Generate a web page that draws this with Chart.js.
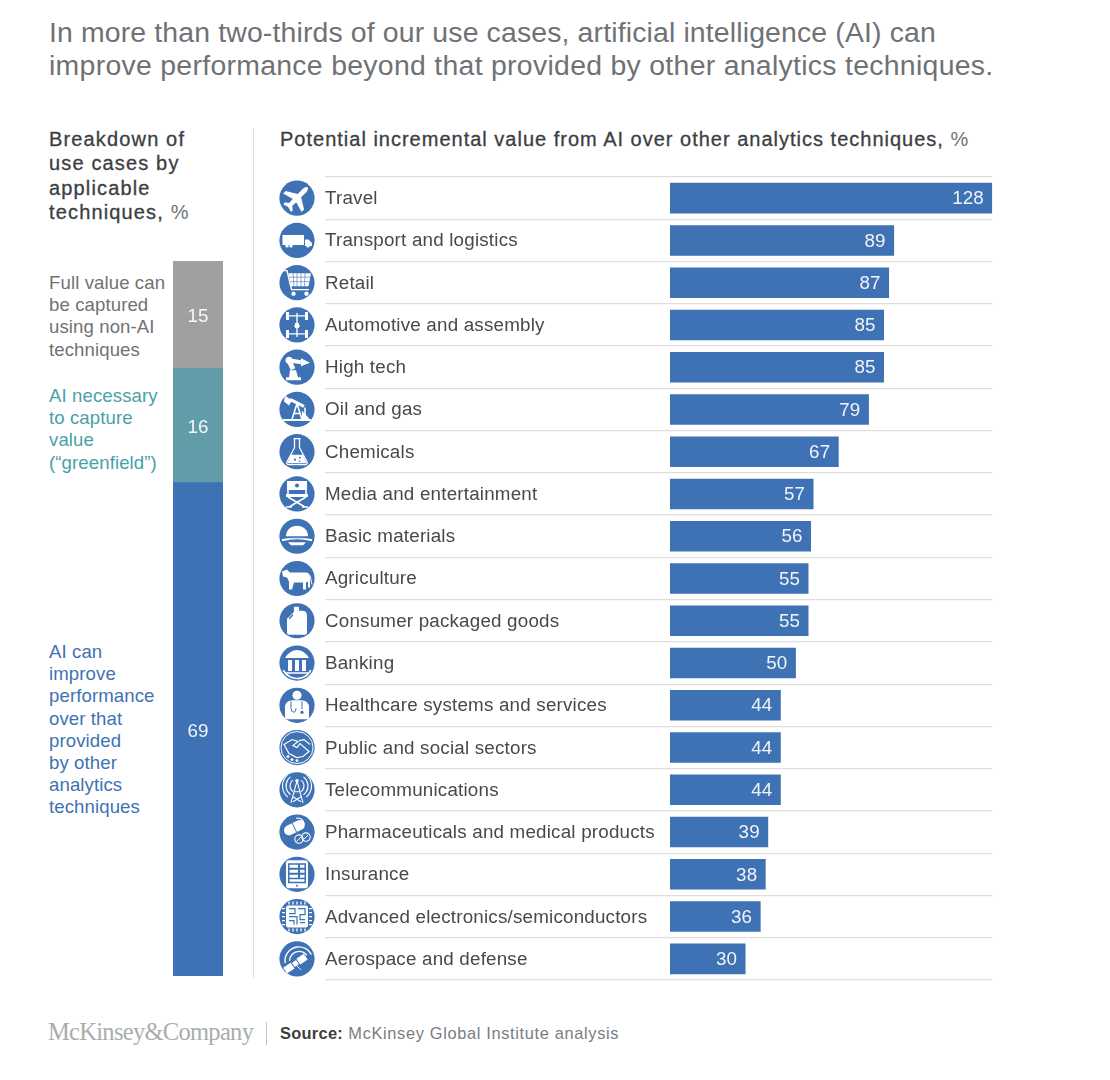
<!DOCTYPE html>
<html>
<head>
<meta charset="utf-8">
<title>AI use cases</title>
<script src="https://cdn.jsdelivr.net/npm/chart.js@4"></script>
<style>
  html, body { margin: 0; padding: 0; background: #fff; }
  body { position: relative; width: 1110px; height: 1080px; overflow: hidden; font-family: "Liberation Sans", Arial, sans-serif; }
  .txt { position: absolute; white-space: nowrap; }
  canvas { position: absolute; }
  #title { left: 49px; top: 16px; font-size: 28.4px; line-height: 33px; color: #6e7276; }
  #title .l1 { letter-spacing: 0.15px; }
  #title .l2 { letter-spacing: 0.3px; }
  .head { font-size: 20px; color: #3c3e41; -webkit-text-stroke: 0.3px #3c3e41; }
  .head span { color: #6e7276; font-weight: normal; -webkit-text-stroke: 0; }
  #headLeft { left: 49px; top: 127px; line-height: 24.4px; letter-spacing: 1.15px; }
  #headRight { left: 280px; top: 127px; line-height: 24.4px; letter-spacing: 1px; }
  .seg { left: 49px; font-size: 18.6px; line-height: 22.2px; letter-spacing: 0.1px; }
  #divider { position: absolute; left: 253px; top: 128px; width: 1px; height: 850px; background: #dcdcdc; }
  #logo { left: 48px; top: 1018px; font-family: "Liberation Serif", serif; font-size: 24.5px; color: #a8adaa; line-height: 28px; letter-spacing: -0.7px; }
  #footBar { position: absolute; left: 266px; top: 1022px; width: 1px; height: 23px; background: #c4c4c4; }
  #source { left: 280px; top: 1023px; font-size: 16.4px; line-height: 20px; color: #7a7c7f; letter-spacing: 0.65px; }
  #source b { color: #3c3e41; letter-spacing: 0.3px; }
</style>
</head>
<body>
<div class="txt" id="title"><span class="l1">In more than two-thirds of our use cases, artificial intelligence (AI) can</span><br><span class="l2">improve performance beyond that provided by other analytics techniques.</span></div>
<div class="txt head" id="headLeft">Breakdown of<br>use cases by<br>applicable<br>techniques, <span>%</span></div>
<div id="divider"></div>
<div class="txt head" id="headRight">Potential incremental value from AI over other analytics techniques, <span>%</span></div>
<canvas id="stackChart" width="50" height="715" style="left:173px;top:261px"></canvas>
<canvas id="barChart" width="740" height="840" style="left:270px;top:160px"></canvas>
<div class="txt" id="logo">McKinsey&amp;Company</div>
<div id="footBar"></div>
<div class="txt" id="source"><b>Source:</b> McKinsey Global Institute analysis</div>

<script>
// left column
var segmentNames = ['AI can improve performance over that provided by other analytics techniques', 'AI necessary to capture value (“greenfield”)', 'Full value can be captured using non-AI techniques'];
var segmentLines = [
    ['AI can', 'improve', 'performance', 'over that', 'provided', 'by other', 'analytics', 'techniques'],
    ['AI necessary', 'to capture', 'value', '(“greenfield”)'],
    ['Full value can', 'be captured', 'using non-AI', 'techniques']
];
var segmentValues = [69, 16, 15];

// right column
var categories = ['Travel', 'Transport and logistics', 'Retail', 'Automotive and assembly', 'High tech', 'Oil and gas', 'Chemicals', 'Media and entertainment', 'Basic materials', 'Agriculture', 'Consumer packaged goods', 'Banking', 'Healthcare systems and services', 'Public and social sectors', 'Telecommunications', 'Pharmaceuticals and medical products', 'Insurance', 'Advanced electronics/semiconductors', 'Aerospace and defense'];
var values = [128, 89, 87, 85, 85, 79, 67, 57, 56, 55, 55, 50, 44, 44, 44, 39, 38, 36, 30];

var BLUE = '#3f72b4';
var GREY = '#a0a0a0';
var TEAL = '#629ca9';
var segmentColors = [BLUE, TEAL, GREY];
var segmentTextColors = [BLUE, '#4a9fa9', '#707274'];
var segmentTops = [641, 385, 272];
var FONT = '"Liberation Sans", Arial, sans-serif';

// legende a gauche du stack
segmentLines.forEach(function(lines, i) {
    var div = document.createElement('div');
    div.className = 'txt seg';
    div.style.top = segmentTops[i] + 'px';
    div.style.color = segmentTextColors[i];
    div.innerHTML = lines.join('<br>');
    document.body.appendChild(div);
});

// petits outils pour les icones (repere centre sur le cercle, rayon 17.5)
function fillP(ctx, d) { ctx.fill(new Path2D(d)); }
function strokeP(ctx, d, w) { ctx.lineWidth = w || 1.2; ctx.stroke(new Path2D(d)); }
function dot(ctx, x, y, r) { ctx.beginPath(); ctx.arc(x, y, r, 0, Math.PI * 2); ctx.fill(); }
function ring(ctx, x, y, r, w) { ctx.lineWidth = w || 1.2; ctx.beginPath(); ctx.arc(x, y, r, 0, Math.PI * 2); ctx.stroke(); }
function arcS(ctx, x, y, r, a, b, w) { ctx.lineWidth = w || 1.2; ctx.beginPath(); ctx.arc(x, y, r, a, b); ctx.stroke(); }
function blue(ctx) { ctx.fillStyle = BLUE; ctx.strokeStyle = BLUE; }
function white(ctx) { ctx.fillStyle = '#fff'; ctx.strokeStyle = '#fff'; }

var icons = [
    function(c) { // avion
        c.save(); c.rotate(Math.PI / 4);
        fillP(c, 'M0 -15C1.7 -15 2.4 -12 2.4 -10L2.4 -3.5L13 3L13 6.5L2.4 3.5L2.2 9L5.5 11.5L5.5 14L0 12.5L-5.5 14L-5.5 11.5L-2.2 9L-2.4 3.5L-13 6.5L-13 3L-2.4 -3.5L-2.4 -10C-2.4 -12 -1.7 -15 0 -15Z');
        c.restore();
    },
    function(c) { // camion
        fillP(c, 'M-14.5 -5.5H7V4.5H-14.5Z M8 -1H11.5L15 2.5V5.5H8Z');
        dot(c, -10, 5.5, 1.7); dot(c, -6, 5.5, 1.7); dot(c, 11, 5.5, 1.7);
    },
    function(c) { // caddie
        strokeP(c, 'M-14 -12H-10L-5.5 7H12', 1.4);
        fillP(c, 'M-8.5 -9.5H14L11.5 3.5H-6Z');
        blue(c); strokeP(c, 'M-4 -9.5L-3 3.5M0 -9.5V3.5M4 -9.5V3.5M8 -9.5L7.5 3.5M-8 -5.5H13M-7 -1H12.5', 0.6); white(c);
        dot(c, -3.5, 11, 2.2); dot(c, 9.5, 11, 2.2);
    },
    function(c) { // chassis
        strokeP(c, 'M0 -12V12M-8 -9H8M-8 9H8M-3 1H3', 1.4);
        fillP(c, 'M-11 -13H-8V-5H-11Z M8 -13H11V-5H8Z M-11 5H-8V13H-11Z M8 5H11V13H8Z M-2 -2H2V3H-2Z');
    },
    function(c) { // robot
        fillP(c, 'M-11 13H4V10H1L-1 3L-7 3L-8 10H-11Z');
        strokeP(c, 'M-4 2L-8 -7', 5);
        strokeP(c, 'M-8 -7L4 -5', 4);
        dot(c, -8, -7, 3.5);
        fillP(c, 'M4 -9L13 -4.5L4 -1Z');
    },
    function(c) { // pompe
        strokeP(c, 'M-14 10.5H14', 2);
        strokeP(c, 'M-7 -10L7 -3', 3);
        fillP(c, 'M-12 -14L-5 -9L-8 -4L-13 -8Z');
        strokeP(c, 'M0 -6L-5 10M0 -6L5 10M-3 4H3M8 -2V9', 1.6);
        fillP(c, 'M5 1L13 10H5Z');
    },
    function(c) { // fiole
        strokeP(c, 'M-3.5 -13H3.5M-2.5 -13V-4L-10 10Q-11 13 -8 13H8Q11 13 10 10L2.5 -4V-13', 1.3);
        fillP(c, 'M-6 3H6L9 10Q9.5 11.5 8 11.5H-8Q-9.5 11.5 -9 10Z');
        blue(c); dot(c, -2, 8, 1.1); dot(c, 3, 6, 0.9); dot(c, 2.5, 9.5, 0.8); white(c);
    },
    function(c) { // chaise
        fillP(c, 'M-10 -13H10V-4H-10Z M-11 0H11V3H-11Z');
        strokeP(c, 'M-9 -13V3M9 -13V3M-9 3L8 13M9 3L-8 13M-11 13H-5M5 13H11', 1.6);
        blue(c); dot(c, 0, -8.5, 2); white(c);
    },
    function(c) { // casque
        fillP(c, 'M-11 0C-11 -14 11 -14 11 0Z');
        strokeP(c, 'M-15 4Q0 0 15 4', 2);
        fillP(c, 'M-9 6H9L6 9H-6Z');
        blue(c); strokeP(c, 'M-11 1.5H11', 1); white(c);
    },
    function(c) { // vache
        fillP(c, 'M-15 -7L-10 -9L-7 -6H8C12 -6 13 -4 13 -1V9H11V3L9 4V11H6V4H-3L-5 11H-8L-8 3L-10 -1L-14 -2Z');
        strokeP(c, 'M13 -3L15 6', 1);
    },
    function(c) { // bidon
        fillP(c, 'M-3 -14H2V-10H5Q10 -10 10 -5V12Q10 14 8 14H-8Q-10 14 -10 12V-2L-3 -9Z');
        blue(c); fillP(c, 'M-4 -7L-8 -3V-1L-4 -5Z'); white(c);
    },
    function(c) { // banque
        fillP(c, 'M-12 -5Q-7 -13 0 -13Q7 -13 12 -5Z M-9 -3H-5V8H-9Z M-2 -3H2V8H-2Z M5 -3H9V8H5Z');
        arcS(c, 0, 0, 15.5, Math.PI * 0.15, Math.PI * 0.85, 1.6);
        strokeP(c, 'M-11 10H11', 1.4);
    },
    function(c) { // medecin
        dot(c, 0, -10, 4.5);
        fillP(c, 'M-12 14V2Q-12 -4 -5 -5H5Q12 -4 12 2V14Z');
        blue(c); strokeP(c, 'M-6 -4V3Q-6 7 -3 7Q-1 7 -1 3M5 -4V4', 1); dot(c, 5, 7, 1.6); white(c);
    },
    function(c) { // poignee de main
        ring(c, 0, 0, 16, 1);
        strokeP(c, 'M-13 -3L-5 -8L1 -6L-4 -2L0 0L3 -4L12 4L6 9L0 10L-8 6Z', 1.2);
        strokeP(c, 'M2 -7L7 -8L13 -3', 1.2);
        dot(c, -9, 9, 1.4); dot(c, -5, 12, 1.4); dot(c, 0, 13, 1.4);
    },
    function(c) { // antenne
        strokeP(c, 'M0 -9L-6 13M0 -9L6 13M-3 2H3M-4 7L4 12M4 7L-4 12', 1.1);
        dot(c, 0, -9, 1.8);
        arcS(c, 0, -4, 7, Math.PI * 0.7, Math.PI * 1.3, 1.1); arcS(c, 0, -4, 7, -Math.PI * 0.3, Math.PI * 0.3, 1.1);
        arcS(c, 0, -4, 11, Math.PI * 0.7, Math.PI * 1.3, 1.1); arcS(c, 0, -4, 11, -Math.PI * 0.3, Math.PI * 0.3, 1.1);
        arcS(c, 0, -4, 14.5, Math.PI * 0.72, Math.PI * 1.28, 1.1); arcS(c, 0, -4, 14.5, -Math.PI * 0.28, Math.PI * 0.28, 1.1);
    },
    function(c) { // comprimes
        c.save(); c.translate(-3.5, -4); c.rotate(-0.45);
        fillP(c, 'M-5 -5H7A5 5 0 0 1 7 5H-5A5 5 0 0 1 -5 -5Z');
        blue(c); strokeP(c, 'M1 -5V5', 1); white(c); c.restore();
        ring(c, 2, 7, 4.2, 1.1); strokeP(c, 'M-0.5 9.5L4.5 4.5', 1);
        ring(c, 9, 5, 4.2, 1.1); strokeP(c, 'M6.5 7.5L11.5 2.5', 1);
        arcS(c, 1, -8, 6, -Math.PI * 0.6, 0, 1.1);
    },
    function(c) { // tablette
        c.beginPath(); c.roundRect(-11, -14, 22, 28, 3); c.fill();
        blue(c);
        fillP(c, 'M-9 -11H9V9H-9Z');
        white(c);
        fillP(c, 'M-7.5 -9.5H1V-6.5H-7.5Z M-7.5 -4.5H1V-1.5H-7.5Z M-7.5 0.5H1V3.5H-7.5Z M-7.5 5H7.5V7.5H-7.5Z M3 -9.5H7.5V-6.5H3Z M3 -4.5H7.5V-1.5H3Z M3 0.5H7.5V3.5H3Z');
        blue(c); dot(c, 0, 11.5, 1); white(c);
    },
    function(c) { // puce
        c.beginPath(); c.roundRect(-11, -11, 22, 22, 2); c.fill();
        strokeP(c, 'M-8 -15V-12M-4 -15V-12M0 -15V-12M4 -15V-12M8 -15V-12M-8 12V15M-4 12V15M0 12V15M4 12V15M8 12V15M-15 -8H-12M-15 -4H-12M-15 0H-12M-15 4H-12M-15 8H-12M12 -8H15M12 -4H15M12 0H15M12 4H15M12 8H15', 1.3);
        blue(c);
        strokeP(c, 'M-8 -8H-2V-3H-8M1 -8H8V-2H3V3H8M-8 0H0V8M-8 4H-3V8M3 6H8', 1.2);
        white(c);
    },
    function(c) { // satellite
        arcS(c, 2, 2, 14, Math.PI * 0.95, Math.PI * 1.85, 1.4);
        arcS(c, 2, 2, 9.5, Math.PI * 1, Math.PI * 1.8, 1.4);
        c.save(); c.translate(-2, 5); c.rotate(-0.6);
        fillP(c, 'M-12 -3.5H-3V3.5H-12Z M-2 -2.5H3V2.5H-2Z M4 -3.5H13V3.5H4Z');
        c.restore();
        strokeP(c, 'M-3 4L4 11', 1);
    }
];

// cercles et icones a gauche de chaque ligne
var iconPlugin = {
    id: 'iconPlugin',
    afterDraw: function(chart) {
        var ctx = chart.ctx;
        var yScale = chart.scales.y;
        categories.forEach(function(cat, i) {
            var y = yScale.getPixelForValue(i);
            ctx.save();
            ctx.translate(27, y);
            ctx.fillStyle = BLUE;
            ctx.beginPath();
            ctx.arc(0, 0, 17.6, 0, Math.PI * 2);
            ctx.fill();
            ctx.beginPath();
            ctx.arc(0, 0, 17.6, 0, Math.PI * 2);
            ctx.clip();
            white(ctx);
            ctx.lineCap = 'butt';
            icons[i](ctx);
            ctx.restore();
        });
    }
};

// espacement des lettres pour les libelles de l'axe
var spacingPlugin = {
    id: 'spacingPlugin',
    beforeDraw: function(chart) { chart.ctx.letterSpacing = '0.2px'; }
};

// valeurs en blanc dans les barres
var barLabelPlugin = {
    id: 'barLabelPlugin',
    afterDatasetsDraw: function(chart) {
        var ctx = chart.ctx;
        ctx.save();
        ctx.fillStyle = 'rgba(255,255,255,0.92)';
        ctx.font = '18.8px ' + FONT;
        ctx.letterSpacing = '0.1px';
        ctx.textBaseline = 'middle';
        ctx.textAlign = 'right';
        chart.getDatasetMeta(0).data.forEach(function(bar, i) {
            ctx.fillText(values[i], bar.x - 8.5, bar.y + 1);
        });
        ctx.restore();
    }
};

var stackLabelPlugin = {
    id: 'stackLabelPlugin',
    afterDatasetsDraw: function(chart) {
        var ctx = chart.ctx;
        ctx.save();
        ctx.fillStyle = 'rgba(255,255,255,0.92)';
        ctx.font = '18.8px ' + FONT;
        ctx.letterSpacing = '0.1px';
        ctx.textBaseline = 'middle';
        ctx.textAlign = 'center';
        chart.data.datasets.forEach(function(ds, i) {
            var bar = chart.getDatasetMeta(i).data[0];
            ctx.fillText(ds.data[0], bar.x, (bar.y + bar.base) / 2 + 2);
        });
        ctx.restore();
    }
};

new Chart(document.getElementById('stackChart'), {
    type: 'bar',
    data: {
        labels: ['Use cases'],
        datasets: segmentValues.map(function(v, i) {
            return { label: segmentNames[i], data: [v], backgroundColor: segmentColors[i], barPercentage: 1, categoryPercentage: 1 };
        })
    },
    options: {
        responsive: false,
        animation: false,
        layout: { padding: 0 },
        plugins: { legend: { display: false }, tooltip: { enabled: false } },
        scales: {
            x: { stacked: true, display: false },
            y: { stacked: true, display: false, min: 0, max: 100 }
        }
    },
    plugins: [stackLabelPlugin]
});

new Chart(document.getElementById('barChart'), {
    type: 'bar',
    data: {
        labels: categories,
        datasets: [{
            label: 'Potential incremental value',
            data: values,
            backgroundColor: BLUE,
            barPercentage: 0.722,
            categoryPercentage: 1
        }]
    },
    options: {
        indexAxis: 'y',
        responsive: false,
        animation: false,
        layout: { padding: { left: 55, right: 17.7, top: 17, bottom: 20 } },
        plugins: { legend: { display: false }, tooltip: { enabled: false } },
        scales: {
            x: { display: false, min: 0, max: 128 },
            y: {
                afterFit: function(scale) { scale.width = 345; },
                border: { display: false },
                grid: { color: '#dedede', tickColor: '#dedede', lineWidth: 1.3, drawTicks: true, tickLength: 345 },
                ticks: { autoSkip: false, crossAlign: 'far', padding: 0, labelOffset: 0.8, color: '#47494c', font: { family: FONT, size: 18.8 } }
            }
        }
    },
    plugins: [spacingPlugin, barLabelPlugin, iconPlugin]
});
</script>
</body>
</html>
